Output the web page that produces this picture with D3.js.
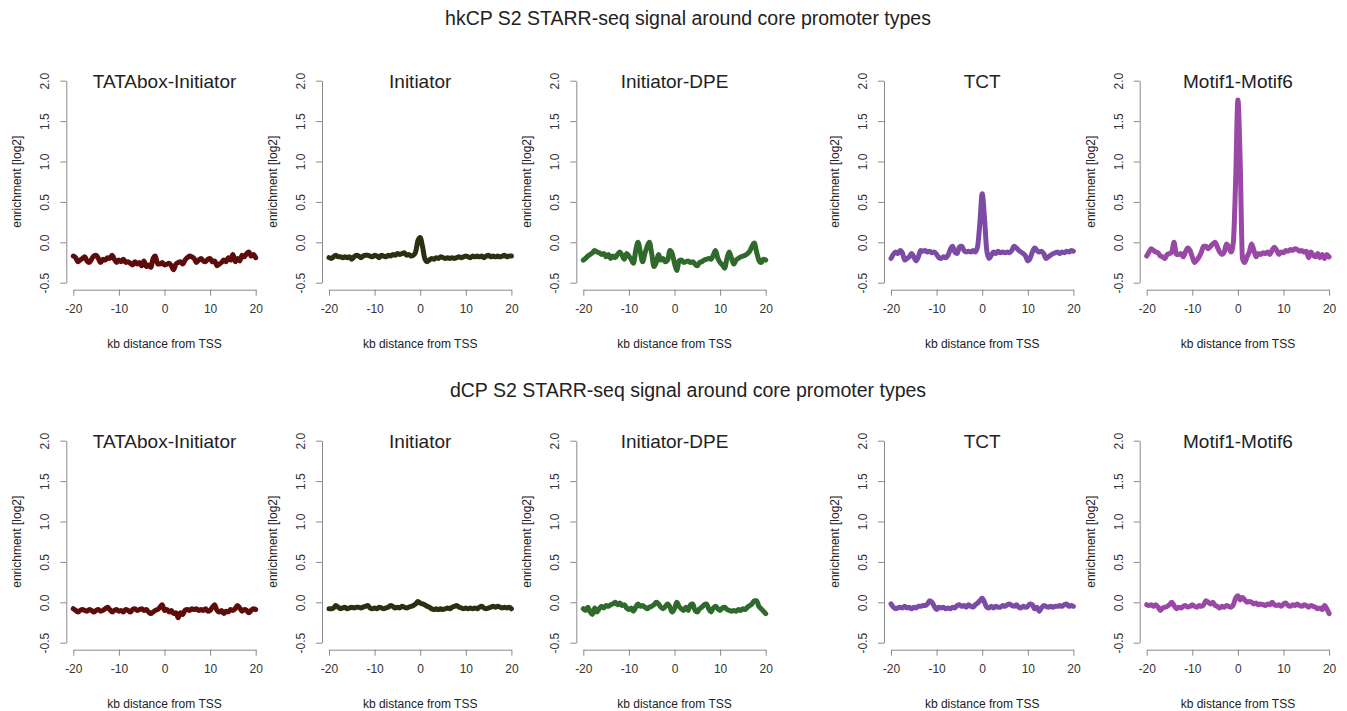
<!DOCTYPE html>
<meta charset="utf-8">
<style>
body { margin: 0; background: #fff; }
.canvas text { font-family: "Liberation Sans", Arial, sans-serif; fill: #222; }
.rowtitle { font-size: 19.5px; text-anchor: middle; }
.ptitle { font-size: 19px; text-anchor: middle; fill: #111; }
.axis path, .axis line { stroke: #8a8a8a; stroke-width: 1; }
.axis text { font-size: 12px; fill: #333; }
.lab { font-size: 12px; text-anchor: middle; fill: #333; }
.signal { fill: none; stroke-width: 5; stroke-linejoin: round; stroke-linecap: round; }
</style>
<svg class="canvas"></svg>
<script src="https://cdn.jsdelivr.net/npm/d3@7"></script>
<script>

// kb distance from TSS, one point every 0.5 kb
var kb = [-20,-19.5,-19,-18.5,-18,-17.5,-17,-16.5,-16,-15.5,-15,-14.5,-14,-13.5,-13,-12.5,-12,-11.5,-11,-10.5,
	-10,-9.5,-9,-8.5,-8,-7.5,-7,-6.5,-6,-5.5,-5,-4.5,-4,-3.5,-3,-2.5,-2,-1.5,-1,-0.5,
	0,0.5,1,1.5,2,2.5,3,3.5,4,4.5,5,5.5,6,6.5,7,7.5,8,8.5,9,9.5,
	10,10.5,11,11.5,12,12.5,13,13.5,14,14.5,15,15.5,16,16.5,17,17.5,18,18.5,19,19.5,20];

var panelNames = ["TATAbox-Initiator", "Initiator", "Initiator-DPE", "TCT", "Motif1-Motif6"];
var panelColors = ["#5e0b0b", "#2c2f10", "#2f6a2c", "#7b4ba6", "#9a48a5"];
var rowTitles = ["hkCP S2 STARR-seq signal around core promoter types",
	"dCP S2 STARR-seq signal around core promoter types"];
var yTicks = [-0.5, 0, 0.5, 1, 1.5, 2];
var xTicks = [-20, -10, 0, 10, 20];

// hkCP row
var hkTATA = [-0.17,-0.19,-0.24,-0.22,-0.2,-0.18,-0.23,-0.25,-0.21,-0.17,-0.16,-0.2,-0.25,-0.21,-0.22,-0.19,-0.2,-0.16,-0.21,-0.25,
	-0.22,-0.24,-0.21,-0.25,-0.24,-0.26,-0.28,-0.24,-0.27,-0.25,-0.29,-0.23,-0.3,-0.28,-0.31,-0.2,-0.17,-0.27,-0.27,-0.25,
	-0.28,-0.27,-0.26,-0.29,-0.34,-0.27,-0.25,-0.24,-0.27,-0.22,-0.19,-0.17,-0.18,-0.2,-0.25,-0.22,-0.2,-0.23,-0.24,-0.21,
	-0.2,-0.24,-0.23,-0.29,-0.27,-0.25,-0.22,-0.24,-0.19,-0.22,-0.15,-0.24,-0.2,-0.23,-0.16,-0.18,-0.14,-0.12,-0.17,-0.15,-0.19];
var hkInr = [-0.19,-0.2,-0.18,-0.16,-0.18,-0.18,-0.19,-0.18,-0.19,-0.18,-0.21,-0.18,-0.16,-0.17,-0.19,-0.17,-0.16,-0.16,-0.17,-0.18,
	-0.16,-0.17,-0.19,-0.16,-0.17,-0.18,-0.16,-0.17,-0.15,-0.16,-0.14,-0.15,-0.14,-0.13,-0.16,-0.15,-0.17,-0.16,-0.12,0.02,
	0.06,-0.05,-0.2,-0.24,-0.22,-0.2,-0.21,-0.19,-0.2,-0.18,-0.19,-0.2,-0.19,-0.2,-0.19,-0.2,-0.19,-0.18,-0.19,-0.18,
	-0.17,-0.18,-0.19,-0.17,-0.18,-0.17,-0.18,-0.17,-0.19,-0.17,-0.16,-0.18,-0.17,-0.18,-0.17,-0.18,-0.17,-0.16,-0.18,-0.17,-0.17];
var hkDPE = [-0.22,-0.2,-0.17,-0.15,-0.13,-0.1,-0.12,-0.13,-0.15,-0.14,-0.18,-0.15,-0.2,-0.17,-0.19,-0.15,-0.12,-0.16,-0.21,-0.14,
	-0.17,-0.21,-0.26,-0.1,0.0,-0.12,-0.24,-0.14,-0.05,0.0,-0.14,-0.3,-0.25,-0.15,-0.22,-0.2,-0.24,-0.22,-0.1,-0.14,
	-0.26,-0.35,-0.23,-0.22,-0.25,-0.24,-0.23,-0.25,-0.24,-0.27,-0.29,-0.25,-0.24,-0.22,-0.21,-0.2,-0.21,-0.16,-0.1,-0.2,
	-0.25,-0.28,-0.32,-0.2,-0.12,-0.2,-0.27,-0.22,-0.2,-0.18,-0.17,-0.16,-0.14,-0.11,-0.05,-0.01,-0.12,-0.22,-0.25,-0.21,-0.22];
var hkTCT = [-0.2,-0.15,-0.12,-0.14,-0.1,-0.13,-0.22,-0.2,-0.18,-0.14,-0.18,-0.23,-0.18,-0.1,-0.11,-0.1,-0.12,-0.11,-0.13,-0.12,
	-0.15,-0.19,-0.2,-0.18,-0.19,-0.16,-0.09,-0.05,-0.12,-0.14,-0.06,-0.05,-0.1,-0.12,-0.11,-0.12,-0.1,-0.12,-0.05,0.25,
	0.6,0.3,-0.1,-0.2,-0.16,-0.12,-0.14,-0.11,-0.13,-0.12,-0.13,-0.12,-0.13,-0.1,-0.05,-0.07,-0.1,-0.12,-0.14,-0.17,
	-0.23,-0.2,-0.12,-0.07,-0.1,-0.12,-0.11,-0.14,-0.2,-0.18,-0.16,-0.14,-0.13,-0.12,-0.14,-0.12,-0.13,-0.11,-0.12,-0.1,-0.11];
var hkMotif = [-0.17,-0.12,-0.08,-0.1,-0.12,-0.13,-0.17,-0.18,-0.2,-0.15,-0.14,-0.12,0.0,-0.15,-0.15,-0.14,-0.18,-0.12,-0.07,-0.1,
	-0.18,-0.25,-0.22,-0.18,-0.12,-0.05,-0.05,-0.08,-0.05,-0.02,0.0,-0.06,-0.12,-0.15,-0.12,-0.02,-0.06,-0.12,0.0,0.75,
	1.76,1.0,-0.2,-0.25,-0.18,-0.12,-0.02,-0.1,-0.18,-0.14,-0.15,-0.13,-0.14,-0.12,-0.15,-0.1,-0.06,-0.1,-0.15,-0.12,
	-0.13,-0.1,-0.11,-0.09,-0.1,-0.08,-0.09,-0.11,-0.1,-0.12,-0.11,-0.19,-0.12,-0.16,-0.18,-0.14,-0.19,-0.15,-0.2,-0.15,-0.18];

// dCP row
var dTATA = [-0.08,-0.1,-0.12,-0.1,-0.09,-0.1,-0.11,-0.09,-0.1,-0.12,-0.1,-0.09,-0.11,-0.1,-0.08,-0.06,-0.09,-0.12,-0.1,-0.09,
	-0.11,-0.1,-0.12,-0.09,-0.1,-0.12,-0.09,-0.08,-0.1,-0.09,-0.08,-0.1,-0.09,-0.12,-0.14,-0.12,-0.1,-0.09,-0.06,-0.03,
	-0.1,-0.09,-0.12,-0.1,-0.14,-0.13,-0.19,-0.13,-0.15,-0.1,-0.09,-0.1,-0.08,-0.09,-0.08,-0.1,-0.09,-0.1,-0.08,-0.11,
	-0.1,-0.06,-0.03,-0.1,-0.12,-0.1,-0.14,-0.11,-0.12,-0.09,-0.1,-0.08,-0.04,-0.07,-0.11,-0.09,-0.1,-0.13,-0.1,-0.08,-0.09];
var dInr = [-0.08,-0.08,-0.07,-0.04,-0.06,-0.08,-0.07,-0.06,-0.08,-0.07,-0.06,-0.07,-0.06,-0.06,-0.07,-0.06,-0.05,-0.04,-0.07,-0.08,
	-0.07,-0.08,-0.06,-0.07,-0.08,-0.07,-0.06,-0.04,-0.05,-0.07,-0.06,-0.07,-0.05,-0.06,-0.07,-0.06,-0.05,-0.04,-0.02,0.01,
	-0.01,-0.02,-0.03,-0.05,-0.06,-0.08,-0.09,-0.08,-0.09,-0.08,-0.09,-0.08,-0.07,-0.08,-0.06,-0.05,-0.04,-0.06,-0.07,-0.08,
	-0.07,-0.08,-0.07,-0.08,-0.07,-0.08,-0.06,-0.05,-0.07,-0.08,-0.07,-0.06,-0.05,-0.06,-0.05,-0.06,-0.07,-0.06,-0.07,-0.06,-0.08];
var dDPE = [-0.08,-0.1,-0.06,-0.12,-0.15,-0.07,-0.12,-0.08,-0.05,-0.07,-0.04,-0.05,-0.03,-0.02,0.0,-0.03,-0.01,-0.04,-0.03,-0.07,
	-0.09,-0.07,-0.11,-0.06,-0.02,-0.05,-0.04,-0.06,-0.08,-0.06,-0.05,-0.03,0.0,-0.02,-0.06,-0.08,-0.05,-0.02,-0.06,-0.12,
	-0.08,0.0,-0.05,-0.08,-0.1,-0.06,-0.1,-0.03,-0.02,-0.1,-0.12,-0.08,-0.06,-0.03,-0.02,-0.08,-0.12,-0.07,-0.05,-0.08,
	-0.1,-0.07,-0.06,-0.09,-0.1,-0.11,-0.1,-0.11,-0.09,-0.1,-0.08,-0.09,-0.06,-0.04,-0.02,0.02,0.02,-0.05,-0.08,-0.11,-0.14];
var dTCT = [-0.02,-0.06,-0.08,-0.07,-0.06,-0.07,-0.05,-0.07,-0.06,-0.08,-0.06,-0.07,-0.05,-0.05,-0.04,-0.04,-0.02,0.02,0.0,-0.05,
	-0.09,-0.06,-0.07,-0.06,-0.08,-0.07,-0.08,-0.06,-0.07,-0.04,-0.03,-0.05,-0.04,-0.06,-0.03,-0.05,-0.06,-0.03,-0.01,0.02,
	0.05,0.0,-0.06,-0.07,-0.05,-0.07,-0.05,-0.06,-0.06,-0.04,-0.05,-0.03,-0.02,-0.04,-0.05,-0.03,-0.06,-0.07,-0.05,-0.06,
	-0.05,-0.02,-0.03,-0.08,-0.06,-0.11,-0.07,-0.04,-0.05,-0.06,-0.05,-0.06,-0.05,-0.05,-0.04,-0.05,-0.03,-0.02,-0.05,-0.04,-0.05];
var dMotif = [-0.03,-0.04,-0.03,-0.05,-0.03,-0.06,-0.1,-0.07,-0.06,-0.05,-0.03,0.0,-0.04,-0.08,-0.06,-0.07,-0.05,-0.04,-0.06,-0.05,
	-0.03,-0.05,-0.06,-0.04,-0.05,-0.03,0.02,0.0,-0.02,0.0,-0.04,-0.05,-0.07,-0.05,-0.06,-0.04,-0.05,-0.06,-0.03,0.05,
	0.08,0.03,0.06,0.03,0.0,0.01,0.0,-0.02,-0.01,-0.03,-0.02,-0.03,-0.04,-0.02,-0.03,0.0,-0.03,-0.04,-0.03,-0.05,
	-0.02,-0.01,-0.04,-0.05,-0.03,-0.04,-0.02,-0.04,-0.05,-0.03,-0.04,-0.06,-0.04,-0.05,-0.06,-0.08,-0.07,-0.09,-0.04,-0.08,-0.14];

var rows = [
	[hkTATA, hkInr, hkDPE, hkTCT, hkMotif],
	[dTATA, dInr, dDPE, dTCT, dMotif]
];

var width = 1347,
	height = 711;

var PANEL_X = [73.3, 329, 583.3, 891, 1146.7];
var PLOT_W = 182.4;
var PLOT_H = 202;
var ROW_Y = [80.7, 440.7];
var ROW_TITLE_Y = [25, 397];
var AX_GAP = 7;

// R prints a plain hyphen, not the unicode minus d3 uses
var fmtY = function(d) { return d3.format(".1f")(d).replace("\u2212", "-"); };
var fmtX = function(d) { return String(d); };

var canvas = d3.select(".canvas")
	.attr("width", width)
	.attr("height", height);

rowTitles.forEach(function(t, r) {
	canvas.append("text")
		.attr("class", "rowtitle")
		.attr("x", 688)
		.attr("y", ROW_TITLE_Y[r])
		.text(t);
});

function drawPanel(x0, y0, values, color, name) {
	var x = d3.scaleLinear().domain([-20, 20]).range([x0, x0 + PLOT_W]);
	var y = d3.scaleLinear().domain([-0.5, 2]).range([y0 + PLOT_H, y0]);

	var g = canvas.append("g");

	var yAxis = g.append("g")
		.attr("class", "axis")
		.attr("transform", "translate(" + (x0 - AX_GAP) + ",0)")
		.call(d3.axisLeft(y).tickValues(yTicks).tickSize(6).tickSizeOuter(0)
			.tickFormat(fmtY));
	yAxis.selectAll(".tick text")
		.attr("transform", "rotate(-90)")
		.attr("x", 0)
		.attr("y", -17)
		.attr("dy", 0)
		.style("text-anchor", "middle");

	g.append("g")
		.attr("class", "axis")
		.attr("transform", "translate(0," + (y0 + PLOT_H + AX_GAP) + ")")
		.call(d3.axisBottom(x).tickValues(xTicks).tickSize(6).tickSizeOuter(0)
			.tickFormat(fmtX))
		.selectAll(".tick text")
		.attr("y", 15)
		.attr("dy", "0.71em");
	g.selectAll(".axis").attr("font-size", null).attr("font-family", null);

	g.append("text")
		.attr("class", "ptitle")
		.attr("x", x0 + PLOT_W / 2)
		.attr("y", y0 + 7)
		.text(name);

	g.append("text")
		.attr("class", "lab")
		.attr("x", x0 + PLOT_W / 2)
		.attr("y", y0 + PLOT_H + 65)
		.text("kb distance from TSS");

	g.append("text")
		.attr("class", "lab")
		.attr("transform", "translate(" + (x0 - 52) + "," + (y0 + PLOT_H / 2) + ") rotate(-90)")
		.text("enrichment [log2]");

	var line = d3.line()
		.x(function(d, i) { return x(kb[i]); })
		.y(function(d) { return y(d); })
		.curve(d3.curveMonotoneX);

	g.append("path")
		.datum(values)
		.attr("class", "signal")
		.attr("stroke", color)
		.attr("d", line);
}

rows.forEach(function(series, r) {
	series.forEach(function(values, c) {
		drawPanel(PANEL_X[c], ROW_Y[r], values, panelColors[c], panelNames[c]);
	});
});

</script>
